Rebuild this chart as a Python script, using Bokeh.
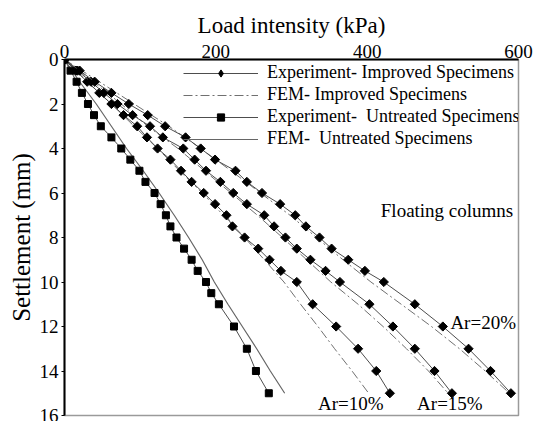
import numpy as np
from bokeh.plotting import figure
from bokeh.models import Range1d, Legend, LegendItem, FixedTicker
from bokeh.core.properties import value
from bokeh.embed import file_html
from bokeh.resources import INLINE

# ---- data ----
untreated_s = [0, 0.5, 1, 1.5, 2, 2.5, 3, 3.5, 4, 4.5, 5, 5.5, 6, 6.5, 7, 7.5, 8, 8.5, 9, 9.5, 10, 10.5, 11, 12, 13, 14, 15]
untreated_load = [0, 8, 16, 23, 31, 39, 48, 62, 75, 87, 99, 107, 119, 127, 134, 140, 148, 158, 168, 176, 187, 194, 204, 224, 241, 253, 270]

improved_s = [0, 0.5, 1, 1.5, 2, 2.5, 3, 3.5, 4, 4.5, 5, 5.5, 6, 6.5, 7, 7.5, 8, 8.5, 9, 9.5, 10, 11, 12, 13, 14, 15]
ar10_load = [0, 15, 30, 46, 62, 78, 96, 109, 123, 140, 154, 168, 184, 199, 214, 222, 238, 256, 271, 286, 307, 328, 359, 388, 412, 430]
ar15_load = [0, 17, 35, 52, 70, 90, 113, 130, 157, 172, 187, 206, 223, 241, 264, 277, 292, 307, 325, 345, 364, 403, 434, 463, 489, 512]
ar20_load = [0, 20, 40, 62, 85, 110, 133, 160, 180, 199, 226, 241, 261, 285, 305, 319, 337, 353, 375, 397, 422, 463, 500, 534, 563, 590]

fem_s = [0, 1, 2, 3, 4, 5, 6, 7, 8, 9, 10, 11, 12, 13, 14, 15]
fem_untreated = [0, 20, 42, 62, 82, 104, 125, 145, 164, 182, 198, 216, 235, 254, 272, 291]
fem_ar10 = [0, 30, 62, 92, 123, 152, 182, 210, 238, 264, 290, 312, 335, 357, 380, 402]
fem_ar15 = [0, 38, 75, 110, 150, 185, 220, 255, 288, 320, 352, 388, 421, 452, 481, 507]
fem_ar20 = [0, 46, 92, 138, 180, 220, 259, 298, 333, 368, 405, 445, 485, 522, 556, 588]

x_ticks = [0, 200, 400, 600]
y_ticks = [0, 2, 4, 6, 8, 10, 12, 14, 16]

notes = ["Floating columns", "Ar=20%", "Ar=10%", "Ar=15%"]
notes_x = [418, 510, 335, 466]
notes_y = [6.77, 11.84, 15.46, 15.46]

FONT = "'Liberation Serif', serif"

p = figure(width=535, height=421, x_range=Range1d(0, 600), y_range=Range1d(16, 0),
           x_axis_location="above", output_backend="svg", toolbar_location=None,
           min_border_left=64, min_border_right=17, min_border_top=59, min_border_bottom=6)
p.xgrid.visible = False
p.ygrid.visible = False
p.outline_line_color = "#9a9a9a"
p.outline_line_width = 1.5
p.background_fill_color = "white"

p.axis.axis_line_color = "black"
p.axis.axis_line_width = 2
p.axis.major_tick_line_color = "black"
p.axis.minor_tick_line_color = None
p.axis.major_label_text_font = FONT
p.axis.major_label_text_font_size = "19px"
p.axis.major_label_text_font_style = "normal"
p.axis.major_label_text_color = "black"
p.axis.axis_label_text_font = FONT
p.axis.axis_label_text_font_style = "normal"
p.axis.axis_label_text_color = "black"

p.xaxis.ticker = FixedTicker(ticks=x_ticks)
p.yaxis.ticker = FixedTicker(ticks=y_ticks)
p.xaxis.major_tick_out = 0
p.xaxis.major_tick_in = 0
p.xaxis.major_label_standoff = 2
p.yaxis.major_tick_out = 3
p.yaxis.major_tick_in = 0
p.yaxis.major_label_standoff = 3
p.xaxis.axis_label = "Load intensity (kPa)"
p.xaxis.axis_label_text_font_size = "23px"
p.xaxis.axis_label_standoff = 4
p.yaxis.axis_label = "Settlement (mm)"
p.yaxis.axis_label_text_font_size = "25px"
p.yaxis.axis_label_standoff = 2

EXP_LINE = "#4d4d4d"
FEM_LINE = "#666666"
DASHDOT = "9 3 2 3"

# FEM improved (dash-dot)
fem_imp = []
for loads in (fem_ar10, fem_ar15, fem_ar20):
    fem_imp.append(p.line(loads, fem_s, line_color="#707070", line_width=1, line_dash=DASHDOT))

# FEM untreated (solid)
fem_un = p.line(fem_untreated, fem_s, line_color=FEM_LINE, line_width=1.2)

# Experiment improved (line + diamonds)
exp_imp_lines = []
exp_imp_marks = []
for loads in (ar10_load, ar15_load, ar20_load):
    exp_imp_lines.append(p.line(loads, improved_s, line_color=EXP_LINE, line_width=1))
    exp_imp_marks.append(p.scatter(loads, improved_s, marker="square", size=6.5, angle=np.pi / 4,
                                   fill_color="black", line_color="black"))

# legend-only diamond symbol (a single NaN point, nothing is drawn in the plot)
legend_diamond = p.scatter(x=[np.nan], y=[np.nan], marker="diamond", size=10,
                           fill_color="black", line_color="black")

# Experiment untreated (line + squares)
exp_un_line = p.line(untreated_load, untreated_s, line_color=EXP_LINE, line_width=1)
exp_un_mark = p.scatter(untreated_load, untreated_s, marker="square", size=7,
                        fill_color="black", line_color="black")

p.text(notes_x, notes_y, text=notes, text_font=value(FONT), text_font_size="19px",
       text_color="black", text_align="left", text_baseline="middle")

legend = Legend(items=[
    LegendItem(label="Experiment- Improved Specimens", renderers=[exp_imp_lines[0], legend_diamond]),
    LegendItem(label="FEM- Improved Specimens", renderers=[fem_imp[0]]),
    LegendItem(label="Experiment-  Untreated Specimens", renderers=[exp_un_line, exp_un_mark]),
    LegendItem(label="FEM-  Untreated Specimens", renderers=[fem_un]),
], location=(119, 266))
legend.background_fill_alpha = 0
legend.border_line_color = None
legend.padding = 0
legend.margin = 0
legend.spacing = 1
legend.glyph_width = 75
legend.glyph_height = 18
legend.label_height = 21
legend.label_standoff = 9
legend.label_text_font = FONT
legend.label_text_font_size = "18px"
legend.label_text_color = "black"
p.add_layout(legend)

open("out.html", "w").write(file_html(p, INLINE))
